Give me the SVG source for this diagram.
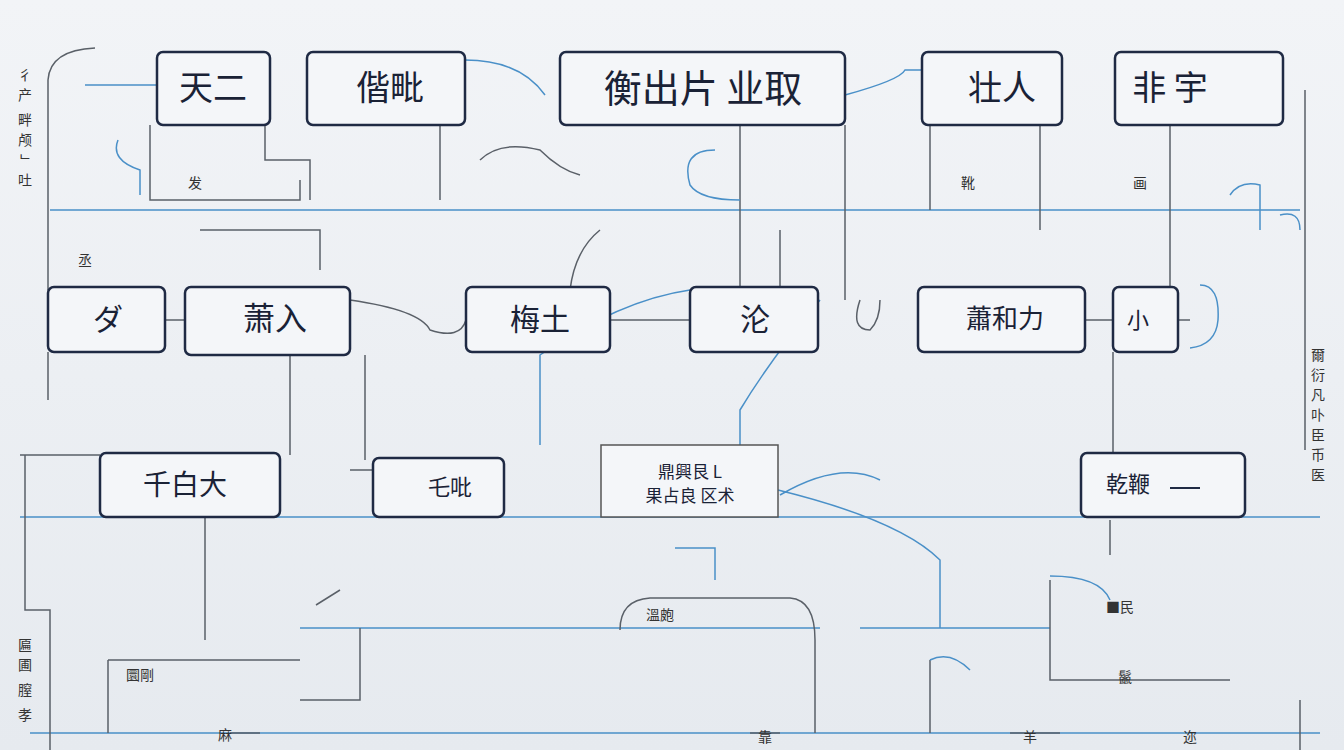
<svg xmlns="http://www.w3.org/2000/svg" width="1344" height="750" viewBox="0 0 1344 750">
<defs>
<linearGradient id="bg" x1="0" y1="0" x2="0" y2="1"><stop offset="0" stop-color="#f2f4f7"/><stop offset="1" stop-color="#e6eaef"/></linearGradient>
<style>
.n{fill:#f4f6f9;stroke:#1f2a44;stroke-width:2.5}
.t{font-family:"Noto Sans CJK SC","Noto Sans CJK JP",sans-serif;fill:#1a2236;text-anchor:middle}
.g{fill:none;stroke:#5a6068;stroke-width:1.5}
.b{fill:none;stroke:#4a90c8;stroke-width:1.5}
.s{font-family:"Noto Sans CJK SC",sans-serif;fill:#333;font-size:14px;text-anchor:middle}
</style>
</defs>
<rect width="1344" height="750" fill="url(#bg)"/>
<g id="connectors">
<path class="b" d="M50 210H1300M20 517H1320M300 628H820M860 628H1050M30 733H1320"/>
<path class="g" d="M95 48Q50 50 48 80V290M48 352V400M20 455H100M25 455V610H50V750M108 660V733M165 320H185M290 355V455M350 470H373M365 355V460M610 320H690M740 125V287M780 230V287M845 125V300M930 125V210M1040 125V230M1085 320H1113M1170 125V287M1178 320H1190M1113 352V455M1305 90V450M200 230H320V270M265 125V160H310V200M150 125V200H300V180M440 125V200M620 630Q620 600 650 598H790Q815 600 815 640V733M930 733V660M1050 580V680H1230M1300 700V750M360 628V700H300M108 660H300M205 517V640M230 733H260M750 733H780M1010 733H1060"/>
<path class="b" d="M85 85H157M465 60Q520 60 545 95M845 95Q900 80 905 70H922M118 140Q110 160 140 170V195M715 150Q680 150 690 185Q700 200 740 200M1230 195Q1240 180 1260 185V230M1200 285Q1220 285 1218 320Q1216 345 1190 348M1200 460Q1245 460 1245 490Q1245 515 1210 517M690 290Q620 300 540 355V445M820 300Q770 360 740 410V445M778 490Q900 520 940 560V628M880 480Q840 460 780 495M675 548H715V580M930 660Q950 650 970 670M1050 576Q1100 576 1110 600M1280 215Q1300 210 1300 230"/>
<path class="g" d="M350 300Q420 310 430 330Q460 340 466 320M480 160Q500 140 540 150Q560 170 580 175M600 230Q575 250 570 290M860 300Q850 330 870 330Q880 320 880 300M316 605L340 590M1110 520V555"/>
</g>
<g id="n1"><rect class="n" x="157" y="52" width="113" height="73" rx="6"/><text class="t" x="213" y="100" font-size="34">天二</text></g>
<g id="n2"><rect class="n" x="307" y="52" width="158" height="73" rx="6"/><text class="t" x="390" y="100" font-size="34">偕毗</text></g>
<g id="n3"><rect class="n" x="560" y="52" width="285" height="73" rx="6"/><text class="t" x="703" y="102" font-size="38">衡出片 业取</text></g>
<g id="n4"><rect class="n" x="922" y="52" width="140" height="73" rx="6"/><text class="t" x="1002" y="100" font-size="34">壮人</text></g>
<g id="n5"><rect class="n" x="1115" y="52" width="168" height="73" rx="6"/><text class="t" x="1170" y="100" font-size="34">非 宇</text></g>
<g id="n6"><rect class="n" x="48" y="287" width="117" height="65" rx="6"/><text class="t" x="108" y="330" font-size="30">ダ</text></g>
<g id="n7"><rect class="n" x="185" y="287" width="165" height="68" rx="6"/><text class="t" x="275" y="330" font-size="32">萧入</text></g>
<g id="n8"><rect class="n" x="466" y="287" width="144" height="65" rx="6"/><text class="t" x="540" y="330" font-size="30">梅土</text></g>
<g id="n9"><rect class="n" x="690" y="287" width="128" height="65" rx="6"/><text class="t" x="755" y="330" font-size="30">沦</text></g>
<g id="n10"><rect class="n" x="918" y="287" width="167" height="65" rx="6"/><text class="t" x="1005" y="328" font-size="26">蕭和力</text></g>
<g id="n11"><rect class="n" x="1113" y="287" width="65" height="65" rx="6"/><text class="t" x="1138" y="328" font-size="22">小</text></g>
<g id="n12"><rect class="n" x="100" y="453" width="180" height="64" rx="6"/><text class="t" x="185" y="495" font-size="28">千白大</text></g>
<g id="n13"><rect class="n" x="373" y="458" width="131" height="59" rx="6"/><text class="t" x="450" y="495" font-size="22">乇吡</text></g>
<g id="n14"><rect x="601" y="445" width="177" height="72" fill="#f4f6f9" stroke="#555" stroke-width="1.5"/><text class="t" x="690" y="478" font-size="17">鼎興艮 L</text><text class="t" x="690" y="502" font-size="17">果占良 区术</text></g>
<g id="n15"><rect class="n" x="1081" y="453" width="164" height="64" rx="6"/><text class="t" x="1128" y="492" font-size="22">乾鞭</text><path d="M1170 488H1200" stroke="#1f2a44" stroke-width="2"/></g>
<g id="labels">
<text class="s" x="25" y="80">彳</text><text class="s" x="25" y="100">产</text><text class="s" x="25" y="125">畔</text><text class="s" x="25" y="145">颅</text><text class="s" x="25" y="165">ᄂ</text><text class="s" x="25" y="185">吐</text>
<text class="s" x="195" y="188" font-size="20">发</text><text class="s" x="85" y="265">丞</text>
<text class="s" x="968" y="188">靴</text><text class="s" x="1140" y="188">画</text>
<text class="s" x="1318" y="360">爾</text><text class="s" x="1318" y="380">衍</text><text class="s" x="1318" y="400">凡</text><text class="s" x="1318" y="420">卟</text><text class="s" x="1318" y="440">臣</text><text class="s" x="1318" y="460">币</text><text class="s" x="1318" y="480">医</text>
<text class="s" x="660" y="620">溫皰</text><text class="s" x="1120" y="612" font-size="20">■民</text><text class="s" x="1125" y="682" font-size="18">鬣</text>
<text class="s" x="140" y="680">圜剛</text><text class="s" x="25" y="650">匾</text><text class="s" x="25" y="670">圃</text><text class="s" x="25" y="695">膣</text><text class="s" x="25" y="720">孝</text>
<text class="s" x="225" y="740" font-size="18">麻</text><text class="s" x="765" y="742" font-size="18">靠</text><text class="s" x="1030" y="742" font-size="18">羊</text><text class="s" x="1190" y="742" font-size="18">迩</text>
</g>
</svg>
